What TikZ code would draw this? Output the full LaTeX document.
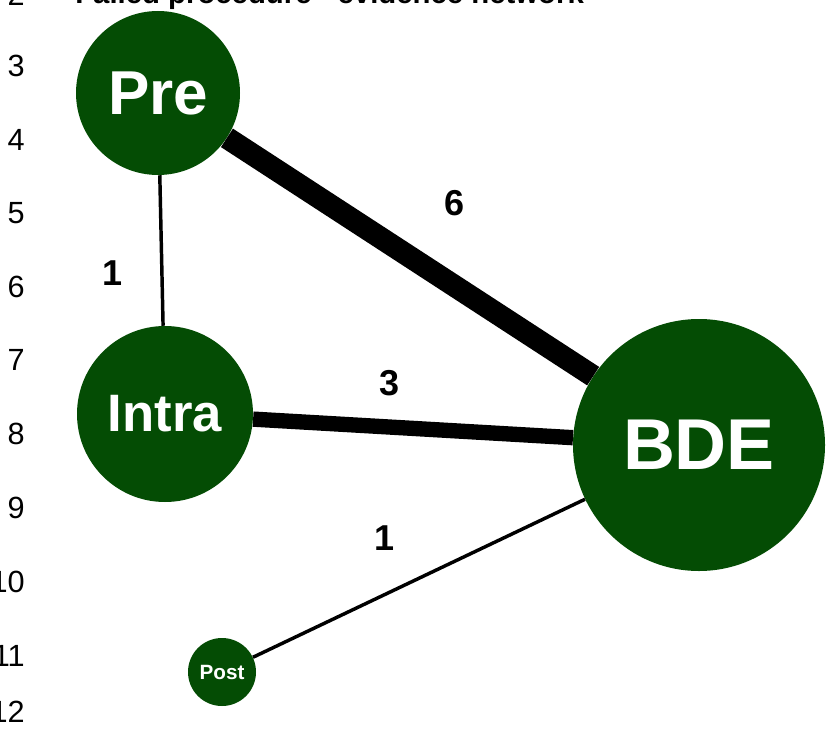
\documentclass[tikz,border=0pt]{standalone}
\usepackage{fontspec}
\setmainfont{Liberation Sans}
\definecolor{netgreen}{RGB}{4,76,4}
\begin{document}
\begin{tikzpicture}[x=0.75pt,y=-0.75pt,
  treat/.style={circle,fill=netgreen,inner sep=0pt,text=white,font=\bfseries},
  link/.style={draw=black,line cap=butt},
  elabel/.style={font=\fontsize{27}{27}\selectfont\bfseries},
  lineno/.style={anchor=east,inner sep=0pt,font=\fontsize{23}{23}\selectfont}]
\useasboundingbox (0,0) rectangle (827,731);
\clip (0,0) rectangle (827,731);
% title (cut off at top)
\node[anchor=base west,inner sep=0pt,font=\fontsize{22}{22}\selectfont\bfseries] (title) at (75,4) {Failed procedure - evidence network};
% line numbers
\node[lineno] (n2) at (25,-5) {2};
\node[lineno] (n3) at (25,66) {3};
\node[lineno] (n4) at (25,140) {4};
\node[lineno] (n5) at (25,213) {5};
\node[lineno] (n6) at (25,287) {6};
\node[lineno] (n7) at (25,360) {7};
\node[lineno] (n8) at (25,434) {8};
\node[lineno] (n9) at (25,508) {9};
\node[lineno] (n10) at (25,582) {10};
\node[lineno] (n11) at (25,656) {11};
\node[lineno] (n12) at (25,712) {12};
% nodes
\node[treat,minimum size=123pt,font=\fontsize{46.5}{46.5}\selectfont\bfseries] (pre) at (158,93) {Pre};
\node[treat,minimum size=132pt,font=\fontsize{39.5}{39.5}\selectfont\bfseries] (intra) at (165,414) {Intra};
\node[treat,minimum size=189pt,font=\fontsize{54}{54}\selectfont\bfseries] (bde) at (699,445) {BDE};
\node[treat,minimum size=51pt,font=\fontsize{15.5}{15.5}\selectfont\bfseries] (post) at (222,672) {Post};
% edges
\draw[link,line width=16.5pt] (pre) -- (bde);
\draw[link,line width=11.5pt] (intra) -- (bde);
\draw[link,line width=2.6pt] (pre) -- (intra);
\draw[link,line width=2.6pt] (post) -- (bde);
% edge labels
\node[elabel] (l1) at (113,273) {1};
\node[elabel] (l6) at (455,203) {6};
\node[elabel] (l3) at (390,383) {3};
\node[elabel] (l4) at (385,538) {1};
\end{tikzpicture}
\end{document}
